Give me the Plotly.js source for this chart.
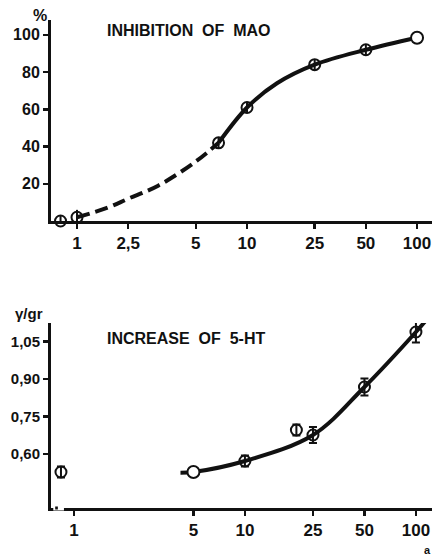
<!DOCTYPE html>
<html>
<head>
<meta charset="utf-8">
<script src="https://cdn.plot.ly/plotly-3.0.1.min.js"></script>
<style>html,body{margin:0;padding:0;background:#fff}#chart{width:432px;height:557px}</style>
</head>
<body>
<div id="chart"></div>
<script>
// ---- Top panel: Inhibition of MAO (%) ----
const maoDose = [0.8, 1, 6.8, 10, 25, 50];
const maoValue = [0, 2, 42, 61, 84, 92];
const maoErr = [3, 4, 3, 3, 3, 3];
const maoOpenDose = [100];
const maoOpenValue = [98.5];
const maoDashDose = [1, 1.5, 2, 3, 5, 6.8];
const maoDashValue = [2, 7, 12, 19, 32, 42];
const maoSolidDose = [6.8, 10, 15, 25, 50, 100];
const maoSolidValue = [42, 61, 74, 84, 92, 98.5];
const maoXTickVals = [1, 2, 5, 10, 25, 50, 100];
const maoXTickText = ["1", "2,5", "5", "10", "25", "50", "100"];
const maoYTickVals = [20, 40, 60, 80, 100];
const maoYTickText = ["20", "40", "60", "80", "100"];

// ---- Bottom panel: Increase of 5-HT (γ/gr) ----
const htDose = [0.84, 10, 20, 25, 50, 100];
const htValue = [0.528, 0.572, 0.696, 0.676, 0.868, 1.088];
const htErr = [0.022, 0.022, 0.022, 0.032, 0.034, 0.042];
const htOpenDose = [5];
const htOpenValue = [0.528];
const htCurveDose = [4.2, 5, 10, 25, 50, 100, 113];
const htCurveValue = [0.525, 0.528, 0.572, 0.676, 0.868, 1.088, 1.13];
const htXTickVals = [1, 5, 10, 25, 50, 100];
const htXTickText = ["1", "5", "10", "25", "50", "100"];
const htYTickVals = [0.60, 0.75, 0.90, 1.05];
const htYTickText = ["0,60", "0,75", "0,90", "1,05"];

const ink = "#111";
const fam = "Liberation Sans, Arial, sans-serif";
const xTickFont = {family: fam, size: 17, color: ink, weight: "bold"};

const traces = [
  {x: maoDashDose, y: maoDashValue, xaxis: "x", yaxis: "y", mode: "lines",
   line: {color: ink, width: 4, dash: "13px,6px", shape: "spline"}, hoverinfo: "skip"},
  {x: maoSolidDose, y: maoSolidValue, xaxis: "x", yaxis: "y", mode: "lines",
   line: {color: ink, width: 4, shape: "spline"}, hoverinfo: "skip"},
  {x: maoDose, y: maoValue, xaxis: "x", yaxis: "y", mode: "markers", cliponaxis: false,
   marker: {symbol: "circle-open", size: 11, color: ink, line: {width: 2}},
   error_y: {type: "data", array: maoErr, visible: true, color: ink, thickness: 2, width: 0}},
  {x: maoOpenDose, y: maoOpenValue, xaxis: "x", yaxis: "y", mode: "markers", cliponaxis: false,
   marker: {symbol: "circle", size: 12, color: "#fff", line: {color: ink, width: 2}}},

  {x: htCurveDose, y: htCurveValue, xaxis: "x2", yaxis: "y2", mode: "lines", cliponaxis: false,
   line: {color: ink, width: 4, shape: "spline"}, hoverinfo: "skip"},
  {x: htDose, y: htValue, xaxis: "x2", yaxis: "y2", mode: "markers", cliponaxis: false,
   marker: {symbol: "circle-open", size: 11, color: ink, line: {width: 2}},
   error_y: {type: "data", array: htErr, visible: true, color: ink, thickness: 2, width: 4}},
  {x: htOpenDose, y: htOpenValue, xaxis: "x2", yaxis: "y2", mode: "markers", cliponaxis: false,
   marker: {symbol: "circle", size: 12, color: "#fff", line: {color: ink, width: 2}}}
];

const axisCommon = {
  showgrid: false, zeroline: false, showline: true, linecolor: ink, linewidth: 3,
  ticks: "outside", ticklen: 5, tickwidth: 2.5, tickcolor: ink, tickfont: xTickFont,
  ticklabeloverflow: "allow", fixedrange: true
};

const titleFont = {size: 16, color: ink, weight: "bold", family: fam};

const layout = {
  width: 432, height: 557,
  margin: {l: 51, r: 0, t: 0, b: 0},
  paper_bgcolor: "#fff", plot_bgcolor: "#fff",
  showlegend: false,
  font: {family: fam, color: ink},
  xaxis: Object.assign({}, axisCommon, {
    type: "log", range: [-0.153, 2.088], domain: [0, 1], anchor: "y",
    tickvals: maoXTickVals, ticktext: maoXTickText
  }),
  yaxis: Object.assign({}, axisCommon, {
    range: [0, 108], domain: [0.6032, 0.9641], anchor: "x",
    tickvals: maoYTickVals, ticktext: maoYTickText,
    tickfont: {family: fam, size: 16, color: ink, weight: "bold"}
  }),
  xaxis2: Object.assign({}, axisCommon, {
    type: "log", range: [-0.134, 2.094], domain: [0, 1], anchor: "y2",
    tickvals: htXTickVals, ticktext: htXTickText
  }),
  yaxis2: Object.assign({}, axisCommon, {
    range: [0.384, 1.124], domain: [0.088, 0.4201], anchor: "x2",
    tickvals: htYTickVals, ticktext: htYTickText,
    tickfont: {family: fam, size: 15, color: ink, weight: "bold"}
  }),
  annotations: [
    {text: "INHIBITION&nbsp;&nbsp;OF&nbsp;&nbsp;MAO", xref: "paper", yref: "paper", x: 0.141, y: 0.945,
     xanchor: "left", yanchor: "middle", showarrow: false, font: titleFont},
    {text: "%", xref: "paper", yref: "paper", x: -0.005, y: 0.973, xanchor: "right", yanchor: "middle",
     showarrow: false, font: {size: 16, color: ink, weight: "bold", family: fam}},
    {text: "INCREASE&nbsp;&nbsp;OF&nbsp;&nbsp;5-HT", xref: "paper", yref: "paper", x: 0.141, y: 0.393,
     xanchor: "left", yanchor: "middle", showarrow: false, font: titleFont},
    {text: "γ/gr", xref: "paper", yref: "paper", x: -0.015, y: 0.438, xanchor: "right", yanchor: "middle",
     showarrow: false, font: {size: 15, color: ink, weight: "bold", family: fam}},
    {text: "a", xref: "paper", yref: "paper", x: 1.0, y: 0.0, xanchor: "right", yanchor: "bottom",
     borderpad: 0, showarrow: false, font: {size: 11, color: ink, weight: "bold"}}
  ],
  shapes: [
    {type: "line", xref: "paper", yref: "paper", x0: 0.006, x1: 0.034, y0: 0.088, y1: 0.088,
     line: {color: "#fff", width: 5}},
    {type: "line", xref: "paper", yref: "paper", x0: 0.011, x1: 0.018, y0: 0.088, y1: 0.088,
     line: {color: ink, width: 3}}
  ]
};

Plotly.newPlot("chart", traces, layout, {displayModeBar: false, staticPlot: true});
</script>
</body>
</html>
